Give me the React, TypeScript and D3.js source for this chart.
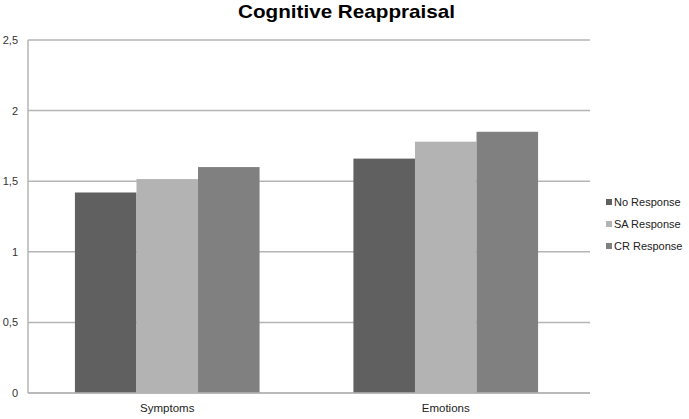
import React, { useEffect, useRef } from 'react';
import * as d3 from 'd3';

const categories = ['Symptoms', 'Emotions'];
const seriesNames = ['No Response', 'SA Response', 'CR Response'];
const noResponse = [1.42, 1.66];
const saResponse = [1.515, 1.78];
const crResponse = [1.6, 1.85];
const seriesColors = ['#606060', '#b3b3b3', '#808080'];
const yTicks = [0, 0.5, 1, 1.5, 2, 2.5];

const W = 689;
const H = 419;

export default function App() {
  const ref = useRef<SVGSVGElement>(null);

  useEffect(() => {
    const svg = d3.select(ref.current);
    svg.selectAll('*').remove();

    const left = 28, right = 590, top = 40, bottom = 393;
    const font = "'Liberation Sans', Arial, sans-serif";
    const values = [noResponse, saResponse, crResponse];

    const y = d3.scaleLinear().domain([0, 2.5]).range([bottom, top]);
    const x0 = d3.scaleBand().domain(categories).range([left, 585])
      .paddingInner(0.337).paddingOuter(0.1685);
    const x1 = d3.scaleBand().domain(seriesNames).range([0, x0.bandwidth()]);

    // title
    svg.append('text')
      .attr('x', 346.5).attr('y', 18)
      .attr('text-anchor', 'middle')
      .attr('font-family', font)
      .attr('font-weight', 'bold')
      .attr('font-size', 19)
      .attr('textLength', 217)
      .attr('lengthAdjust', 'spacingAndGlyphs')
      .attr('fill', '#000')
      .text('Cognitive Reappraisal');

    // grid
    const grid = svg.append('g');
    grid.selectAll('line').data(yTicks).enter().append('line')
      .attr('x1', left).attr('x2', right)
      .attr('y1', d => y(d)).attr('y2', d => y(d))
      .attr('stroke', '#b5b5b5').attr('stroke-width', 1.5);
    grid.append('line')
      .attr('x1', left).attr('x2', left)
      .attr('y1', top).attr('y2', bottom)
      .attr('stroke', '#b5b5b5').attr('stroke-width', 1.5);

    // y labels
    svg.append('g').selectAll('text').data(yTicks).enter().append('text')
      .attr('x', 18).attr('y', d => y(d) + 4)
      .attr('text-anchor', 'end')
      .attr('font-family', font).attr('font-size', 11)
      .attr('fill', '#333')
      .text(d => d3.format('')(d).replace('.', ','));

    // bars
    const groups = svg.append('g').selectAll('g').data(categories).enter().append('g')
      .attr('transform', d => `translate(${x0(d)},0)`);
    groups.selectAll('rect')
      .data((d, ci) => seriesNames.map((s, si) => ({ s, si, v: values[si][ci] })))
      .enter().append('rect')
      .attr('x', d => x1(d.s)!)
      .attr('width', x1.bandwidth())
      .attr('y', d => y(d.v))
      .attr('height', d => bottom - y(d.v))
      .attr('fill', d => seriesColors[d.si]);

    // baseline redraw on top
    svg.append('line')
      .attr('x1', left).attr('x2', right)
      .attr('y1', bottom).attr('y2', bottom)
      .attr('stroke', '#b5b5b5').attr('stroke-width', 1.5);

    // x labels
    svg.append('g').selectAll('text').data(categories).enter().append('text')
      .attr('x', d => x0(d)! + x0.bandwidth() / 2)
      .attr('y', 412)
      .attr('text-anchor', 'middle')
      .attr('font-family', font).attr('font-size', 11.5)
      .attr('fill', '#222')
      .text(d => d);

    // legend
    const legend = svg.append('g').selectAll('g').data(seriesNames).enter().append('g')
      .attr('transform', (d, i) => `translate(606,${199 + i * 22})`);
    legend.append('rect')
      .attr('width', 6).attr('height', 6)
      .attr('fill', (d, i) => seriesColors[i]);
    legend.append('text')
      .attr('x', 8).attr('y', 7)
      .attr('font-family', font).attr('font-size', 11)
      .attr('fill', '#222')
      .text(d => d);
  }, []);

  return (
    <svg ref={ref} width={W} height={H} style={{ position: 'absolute', left: 0, top: 0, background: '#fff' }} />
  );
}
